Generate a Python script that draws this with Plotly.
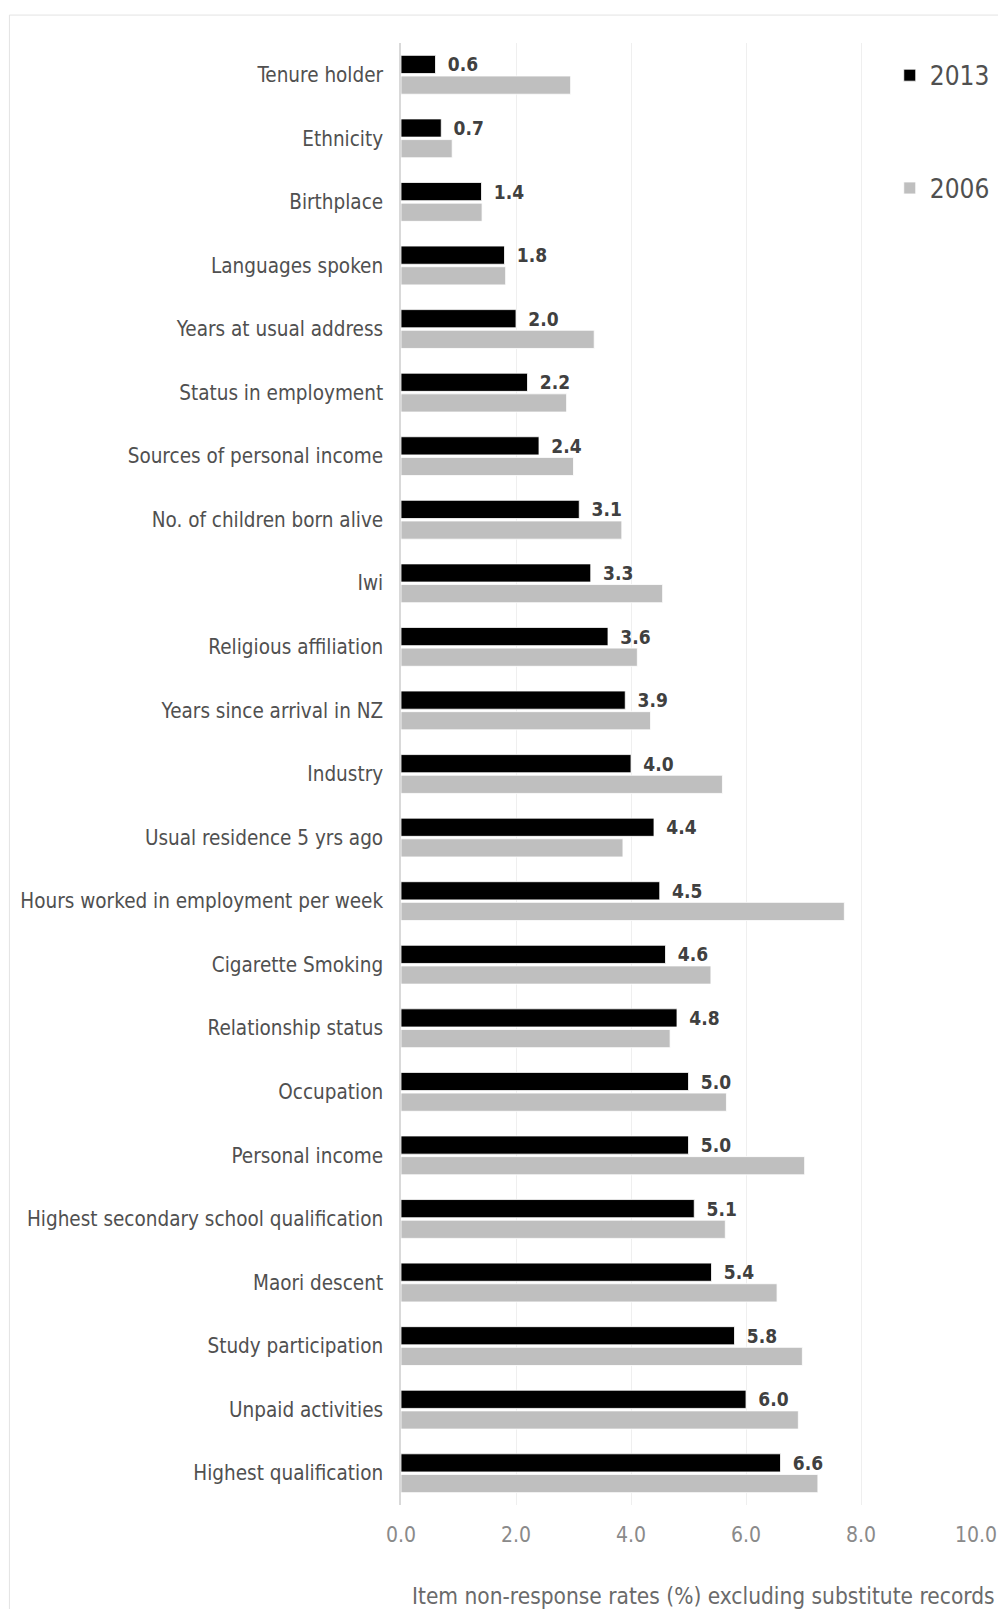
import plotly.graph_objects as go

categories = [
    "Tenure holder", "Ethnicity", "Birthplace", "Languages spoken",
    "Years at usual address", "Status in employment", "Sources of personal income",
    "No. of children born alive", "Iwi", "Religious affiliation",
    "Years since arrival in NZ", "Industry", "Usual residence 5 yrs ago",
    "Hours worked in employment per week", "Cigarette Smoking", "Relationship status",
    "Occupation", "Personal income", "Highest secondary school qualification",
    "Maori descent", "Study participation", "Unpaid activities", "Highest qualification",
]
rates_2013 = [0.6, 0.7, 1.4, 1.8, 2.0, 2.2, 2.4, 3.1, 3.3, 3.6, 3.9, 4.0, 4.4,
              4.5, 4.6, 4.8, 5.0, 5.0, 5.1, 5.4, 5.8, 6.0, 6.6]
rates_2006 = [2.95, 0.89, 1.41, 1.82, 3.36, 2.88, 3.0, 3.84, 4.55, 4.11, 4.34, 5.59,
              3.86, 7.71, 5.39, 4.68, 5.66, 7.02, 5.64, 6.54, 6.98, 6.91, 7.25]
x_ticks = [0, 2, 4, 6, 8, 10]
x_tick_labels = ["0.0", "2.0", "4.0", "6.0", "8.0", "10.0"]

FONT = "Liberation Sans Narrow, DejaVu Sans Condensed, sans-serif"

fig = go.Figure()
fig.add_trace(go.Bar(
    y=categories, x=rates_2013, orientation="h", name="2013",
    legendgroup="a",
    marker=dict(color="#000000", line=dict(color="#ffffff", width=0.8)),
    text=[f"{v:.1f}" for v in rates_2013],
    texttemplate="\u00a0\u2009%{text}",
    textposition="outside", constraintext="none", cliponaxis=False,
    textfont=dict(family=FONT, size=19, color="#404040", weight="bold"),
))
fig.add_trace(go.Bar(
    y=categories, x=rates_2006, orientation="h", name="2006",
    legendgroup="b",
    marker=dict(color="#bfbfbf", line=dict(color="#ffffff", width=0.8)),
))

fig.update_layout(
    width=998, height=1609,
    margin=dict(l=401, r=22, t=43, b=104, autoexpand=False),
    paper_bgcolor="#ffffff", plot_bgcolor="#ffffff",
    barmode="group", bargap=0.35, bargroupgap=0.12,
    font=dict(family=FONT, color="#595959"),
    legend=dict(
        x=0.85, y=0.994, xanchor="left", yanchor="top",
        font=dict(family=FONT, size=26, color="#505050"),
        tracegroupgap=76, bgcolor="rgba(0,0,0,0)", itemwidth=30,
    ),
    showlegend=True,
    xaxis=dict(
        range=[0, 10], tickvals=x_ticks, ticktext=x_tick_labels,
        showgrid=True, gridcolor="#efefef", gridwidth=1, zeroline=False,
        tickfont=dict(family=FONT, size=21, color="#8a8a8a"),
        ticks="", ticklabelstandoff=15, automargin=False,
        fixedrange=True,
    ),
    yaxis=dict(
        autorange="reversed", showgrid=False, showline=True,
        linecolor="#d9d9d9", linewidth=1.5,
        tickfont=dict(family=FONT, size=20.5, color="#505050"),
        ticks="", ticklabelstandoff=12, automargin=False,
    ),
    annotations=[dict(
        text="Item non-response rates (%) excluding substitute records",
        xref="paper", yref="paper", x=1.0366, y=-0.062,
        xanchor="right", yanchor="middle", showarrow=False,
        font=dict(family=FONT, size=22.5, color="#6a6a6a"),
    )],
    shapes=[dict(
        type="rect", xref="paper", yref="paper",
        x0=-0.681, x1=1.2, y0=-0.2, y1=1.0191,
        line=dict(color="#e3e3e3", width=1), layer="below",
    )],
)

fig.write_html("out.html")
